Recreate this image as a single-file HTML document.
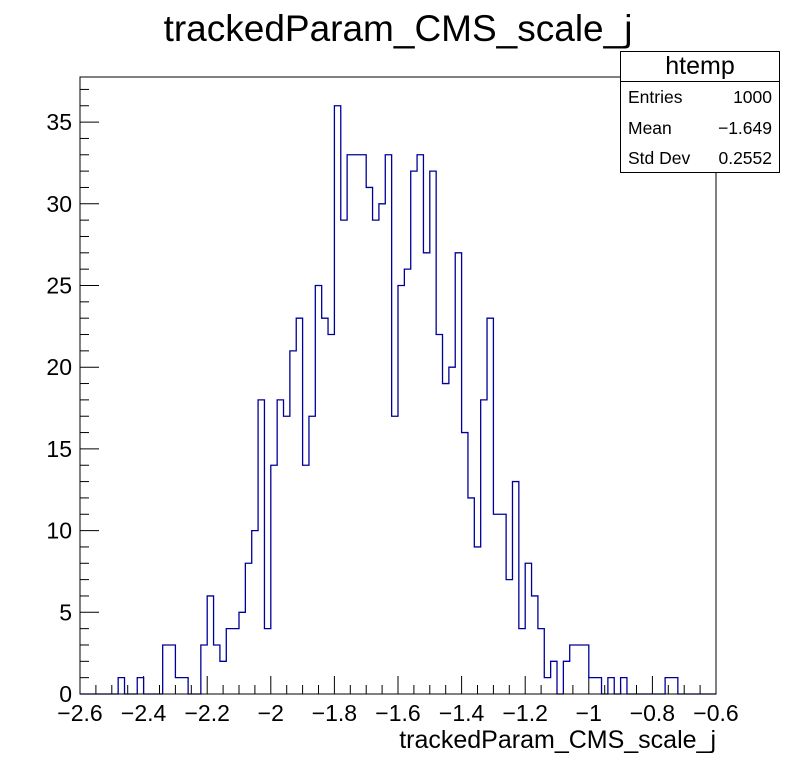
<!DOCTYPE html>
<html><head><meta charset="utf-8"><style>
body{margin:0;background:#fff}
svg text{font-family:"Liberation Sans",sans-serif}
</style></head><body>
<svg id="c" width="796" height="772" xmlns="http://www.w3.org/2000/svg">
<rect width="796" height="772" fill="#fff"/>
<text x="398" y="41" font-size="37" text-anchor="middle">trackedParam_CMS_scale_j</text>
<g id="axes"></g>
<path id="hist" fill="none" stroke="#000099" stroke-width="1.3"/>
<rect x="80" y="77" width="636" height="617" fill="none" stroke="#000" stroke-width="1"/>
<text x="716" y="748" font-size="25" text-anchor="end">trackedParam_CMS_scale_j</text>
<g>
<rect x="620.5" y="51.5" width="159" height="121" fill="#fff" stroke="#000"/>
<line x1="620.5" y1="81.5" x2="779.5" y2="81.5" stroke="#000"/>
<text x="700" y="74" font-size="25" text-anchor="middle">htemp</text>
<text x="628" y="103" font-size="17.5">Entries</text><text x="772" y="103" font-size="17.5" text-anchor="end">1000</text>
<text x="628" y="134" font-size="17.5">Mean</text><text x="772" y="134" font-size="17.5" text-anchor="end">−1.649</text>
<text x="628" y="164" font-size="17.5">Std Dev</text><text x="772" y="164" font-size="17.5" text-anchor="end">0.2552</text>
</g>
</svg>
<script>
const binCounts=[0,0,0,0,0,0,1,0,0,1,0,0,0,3,3,1,1,0,0,3,6,3,2,4,4,5,8,10,18,4,14,18,17,21,23,14,17,25,23,22,36,29,33,33,33,31,29,30,33,17,25,26,32,33,27,32,22,19,20,27,16,12,9,18,23,11,11,7,13,4,8,6,4,1,2,0,2,3,3,3,1,1,0,1,0,1,0,0,0,0,0,0,1,1,0,0,0,0,0,0];
const xMin=-2.6, xMax=-0.6;
const yTicks=[0,5,10,15,20,25,30,35];
const xTicks=[-2.6,-2.4,-2.2,-2,-1.8,-1.6,-1.4,-1.2,-1,-0.8,-0.6];
const xTickLabels=["−2.6","−2.4","−2.2","−2","−1.8","−1.6","−1.4","−1.2","−1","−0.8","−0.6"];
const yMax=37.76;
const L=80,R=716,T=77,B=694;
const sx=v=>L+(v-xMin)/(xMax-xMin)*(R-L);
const sy=v=>B-v/yMax*(B-T);
const NS="http://www.w3.org/2000/svg";
const ax=document.getElementById('axes');
function ln(x1,y1,x2,y2,name){const e=document.createElementNS(NS,'line');e.setAttribute('x1',x1);e.setAttribute('y1',y1);e.setAttribute('x2',x2);e.setAttribute('y2',y2);e.setAttribute('stroke','#000');


ax.appendChild(e);}
function tx(x,y,s,anchor,name){const e=document.createElementNS(NS,'text');e.setAttribute('x',x);e.setAttribute('y',y);e.setAttribute('font-size','23');e.setAttribute('text-anchor',anchor);e.textContent=s;


ax.appendChild(e);}
for(let v=0;v<=37;v++){const y=sy(v);ln(L,y,L+(v%5===0?19:9),y,'y-tick');}
yTicks.forEach(v=>tx(72,sy(v)+8,String(v),'end','y-tick-label'));
for(let i=0;i<=40;i++){const v=xMin+i*0.05;const x=sx(v);ln(x,B,x,B-(i%4===0?18:9),'x-tick');}
xTicks.forEach((v,i)=>tx(sx(v),721,xTickLabels[i],'middle','x-tick-label'));
const n=binCounts.length,w=(xMax-xMin)/n;
let d='M'+sx(xMin)+','+sy(0);
for(let i=0;i<n;i++){const x0=sx(xMin+i*w),x1=sx(xMin+(i+1)*w),y=sy(binCounts[i]);d+=' L'+x0+','+y+' L'+x1+','+y;}
d+=' L'+sx(xMax)+','+sy(0);
document.getElementById('hist').setAttribute('d',d);
</script>
</body></html>
